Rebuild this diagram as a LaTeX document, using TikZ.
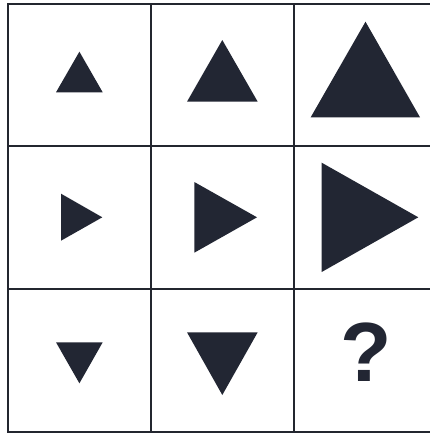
\documentclass[tikz,border=0pt]{standalone}
\usepackage{fontspec}
\newfontfamily\qfont{Liberation Sans}
\definecolor{gridc}{HTML}{23262F}
\definecolor{shapec}{HTML}{222633}
\begin{document}
\begin{tikzpicture}[x=1pt,y=-1pt,
  gridline/.style={draw=gridc,line width=2pt},
  tri/.style={fill=shapec,draw=none}]
\useasboundingbox (0,0) rectangle (430,434);
\fill[white] (0,0) rectangle (430,434);
% grid
\draw[gridline] (8,3.8) rectangle (437,432.3);
\draw[gridline] (151,3.8) -- (151,432.3);
\draw[gridline] (294,3.8) -- (294,432.3);
\draw[gridline] (8,146.4) -- (437,146.4);
\draw[gridline] (8,288.7) -- (437,288.7);
% row 1: up
\fill[tri] (79.4,51.7) -- (102.7,92.3) -- (56,92.3) -- cycle;
\fill[tri] (222.3,40) -- (257.7,101.7) -- (187,101.7) -- cycle;
\fill[tri] (365.5,21.7) -- (420,117.3) -- (310.7,117.3) -- cycle;
% row 2: right
\fill[tri] (61,193.7) -- (102.3,217.3) -- (61,240.7) -- cycle;
\fill[tri] (194.3,182) -- (257,217.3) -- (194.3,252.7) -- cycle;
\fill[tri] (321.7,162.7) -- (418.3,217.3) -- (321.7,272) -- cycle;
% row 3: down
\fill[tri] (56,342.3) -- (102.7,342.3) -- (79.4,383.3) -- cycle;
\fill[tri] (187,332.3) -- (257.7,332.3) -- (222.3,395) -- cycle;
\node[text=shapec,font=\qfont\bfseries\fontsize{84}{84}\selectfont,inner sep=0pt] (q) at (365.8,352.2) {?};
\end{tikzpicture}
\end{document}
